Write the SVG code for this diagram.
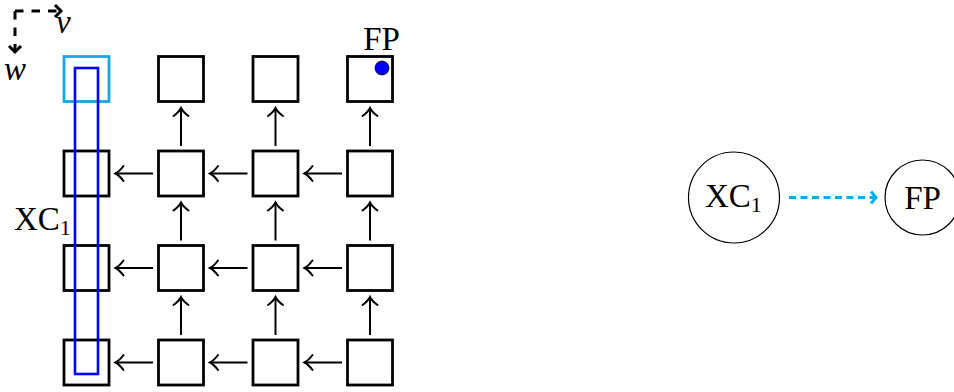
<svg xmlns="http://www.w3.org/2000/svg" width="954" height="392" viewBox="0 0 954 392">
<style>
.cell{fill:none;stroke:#000;stroke-width:2.8}
.arr{fill:none;stroke:#000;stroke-width:2;marker-end:url(#to)}
.lbl{font-family:"Liberation Serif","Times New Roman",serif;font-size:33px;fill:#000}
.it{font-style:italic}
.sub{font-size:22px}
.node{fill:#fff;stroke:#000;stroke-width:1.2}
</style>
<defs>
<marker id="to" markerUnits="userSpaceOnUse" viewBox="-12 -10 14 20" markerWidth="14" markerHeight="20" refX="0" refY="0" orient="auto" overflow="visible">
<path d="M -8 -7.5 C -5 -3.5 -2 -1 0 0 C -2 1 -5 3.5 -8 7.5" fill="none" stroke="#000" stroke-width="2" stroke-linecap="round"/>
</marker>
<marker id="chevK" markerUnits="userSpaceOnUse" viewBox="-12 -10 14 20" markerWidth="14" markerHeight="20" refX="0" refY="0" orient="auto" overflow="visible">
<path d="M -6 -6 L 0 0 L -6 6" fill="none" stroke="#000" stroke-width="3" stroke-dasharray="none"/>
</marker>
<marker id="chevC" markerUnits="userSpaceOnUse" viewBox="-12 -10 14 20" markerWidth="14" markerHeight="20" refX="0" refY="0" orient="auto" overflow="visible">
<path d="M -5 -6 L 0 0 L -5 6" fill="none" stroke="#00aeef" stroke-width="3" stroke-dasharray="none"/>
</marker>
</defs>
<rect width="954" height="392" fill="#fff"/>

<g id="axes">
<path d="M15 11 H61" fill="none" stroke="#000" stroke-width="3" stroke-dasharray="8.5 8" marker-end="url(#chevK)"/>
<path d="M15 11 V52" fill="none" stroke="#000" stroke-width="3" stroke-dasharray="8.5 8" marker-end="url(#chevK)"/>
<text class="lbl it" x="56" y="33">v</text>
<text class="lbl it" x="4" y="80">w</text>
</g>

<g id="connectors">
<line class="arr" x1="181" y1="146" x2="181" y2="108"/>
<line class="arr" x1="275.5" y1="146" x2="275.5" y2="108"/>
<line class="arr" x1="370" y1="146" x2="370" y2="108"/>
<line class="arr" x1="181" y1="240.5" x2="181" y2="202.5"/>
<line class="arr" x1="275.5" y1="240.5" x2="275.5" y2="202.5"/>
<line class="arr" x1="370" y1="240.5" x2="370" y2="202.5"/>
<line class="arr" x1="181" y1="335" x2="181" y2="297"/>
<line class="arr" x1="275.5" y1="335" x2="275.5" y2="297"/>
<line class="arr" x1="370" y1="335" x2="370" y2="297"/>
<line class="arr" x1="153" y1="173.5" x2="115.5" y2="173.5"/>
<line class="arr" x1="247.5" y1="173.5" x2="210" y2="173.5"/>
<line class="arr" x1="342" y1="173.5" x2="304.5" y2="173.5"/>
<line class="arr" x1="153" y1="268" x2="115.5" y2="268"/>
<line class="arr" x1="247.5" y1="268" x2="210" y2="268"/>
<line class="arr" x1="342" y1="268" x2="304.5" y2="268"/>
<line class="arr" x1="153" y1="362.5" x2="115.5" y2="362.5"/>
<line class="arr" x1="247.5" y1="362.5" x2="210" y2="362.5"/>
<line class="arr" x1="342" y1="362.5" x2="304.5" y2="362.5"/>
<path d="M789 197.5 H876" fill="none" stroke="#00aeef" stroke-width="3" stroke-dasharray="7 4.5" marker-end="url(#chevC)"/>
</g>

<g id="grid">
<rect id="c00" x="64" y="56.5" width="45" height="45" fill="none" stroke="#1ba4e0" stroke-width="2.8"/>
<rect id="c10" class="cell" x="158.5" y="56.5" width="45" height="45"/>
<rect id="c20" class="cell" x="253" y="56.5" width="45" height="45"/>
<rect id="c30" class="cell" x="347.5" y="56.5" width="45" height="45"/>
<rect id="c01" class="cell" x="64" y="151" width="45" height="45"/>
<rect id="c11" class="cell" x="158.5" y="151" width="45" height="45"/>
<rect id="c21" class="cell" x="253" y="151" width="45" height="45"/>
<rect id="c31" class="cell" x="347.5" y="151" width="45" height="45"/>
<rect id="c02" class="cell" x="64" y="245.5" width="45" height="45"/>
<rect id="c12" class="cell" x="158.5" y="245.5" width="45" height="45"/>
<rect id="c22" class="cell" x="253" y="245.5" width="45" height="45"/>
<rect id="c32" class="cell" x="347.5" y="245.5" width="45" height="45"/>
<rect id="c03" class="cell" x="64" y="340" width="45" height="45"/>
<rect id="c13" class="cell" x="158.5" y="340" width="45" height="45"/>
<rect id="c23" class="cell" x="253" y="340" width="45" height="45"/>
<rect id="c33" class="cell" x="347.5" y="340" width="45" height="45"/>
</g>

<g id="xc1-column">
<rect x="75" y="68" width="23" height="306" fill="none" stroke="#0000ff" stroke-width="2.6"/>
<text class="lbl" x="14" y="230">XC<tspan class="sub" dy="5">1</tspan></text>
</g>

<g id="fp-cell">
<circle cx="382" cy="68" r="7" fill="#0000ff" stroke="#000" stroke-width="0.8"/>
<text class="lbl" x="381.5" y="50" text-anchor="middle">FP</text>
</g>

<g id="node-xc1">
<circle class="node" cx="734" cy="197.5" r="45.5"/>
<text class="lbl" x="705" y="207">XC<tspan class="sub" dy="5">1</tspan></text>
</g>

<g id="node-fp">
<circle class="node" cx="922.5" cy="197.5" r="37.5"/>
<text class="lbl" x="922.5" y="209" text-anchor="middle">FP</text>
</g>
</svg>
